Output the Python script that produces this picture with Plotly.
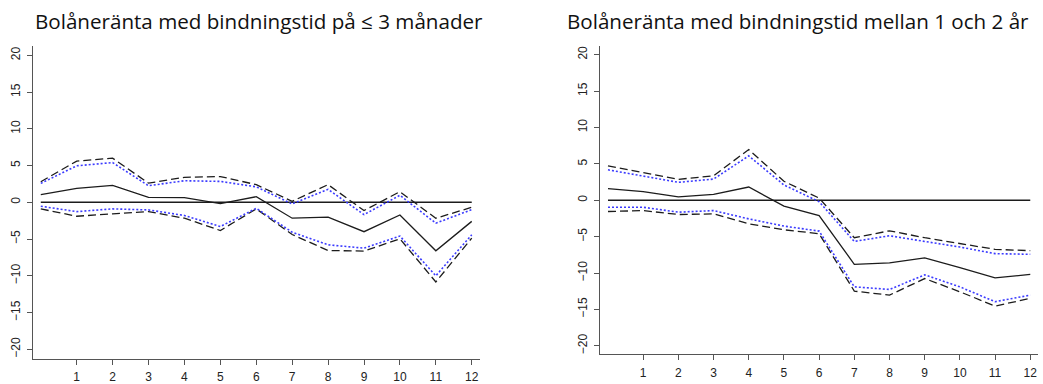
import plotly.graph_objects as go

# Horizon (quarters) shared by both panels
horizon = list(range(0, 13))
zero_line = [0] * 13

# Panel 1: mortgage rate, fixation period <= 3 months
short_mid = [1.03, 1.9, 2.3, 0.68, 0.63, -0.18, 0.76, -2.17, -2.03, -4.0, -1.72, -6.6, -2.6]
short_up_dash = [2.8, 5.6, 6.0, 2.6, 3.4, 3.5, 2.4, 0.13, 2.4, -1.13, 1.44, -2.17, -0.68]
short_up_dot = [2.57, 4.96, 5.4, 2.25, 2.93, 2.84, 2.1, -0.23, 1.76, -1.68, 0.95, -2.85, -1.0]
short_lo_dot = [-0.54, -1.27, -0.9, -1.04, -1.8, -3.3, -0.82, -4.07, -5.79, -6.24, -4.6, -10.0, -4.43]
short_lo_dash = [-0.9, -1.9, -1.58, -1.27, -2.17, -3.84, -0.9, -4.39, -6.56, -6.64, -4.97, -10.84, -4.88]

# Panel 2: mortgage rate, fixation period 1-2 years
long_mid = [1.59, 1.18, 0.45, 0.82, 1.82, -0.8, -2.1, -8.8, -8.6, -7.93, -9.26, -10.67, -10.2]
long_up_dash = [4.73, 3.83, 2.87, 3.36, 6.97, 2.6, 0.3, -5.15, -4.2, -5.15, -5.97, -6.75, -6.93]
long_up_dot = [4.18, 3.36, 2.46, 2.91, 6.1, 2.1, -0.2, -5.66, -4.88, -5.66, -6.43, -7.34, -7.43]
long_lo_dot = [-0.96, -0.96, -1.64, -1.42, -2.56, -3.55, -4.24, -11.9, -12.26, -10.25, -11.9, -13.94, -13.04]
long_lo_dash = [-1.55, -1.42, -1.96, -1.87, -3.24, -4.06, -4.6, -12.49, -13.04, -10.76, -12.58, -14.54, -13.49]

titles = ["Bolåneränta med bindningstid på ≤ 3 månader",
          "Bolåneränta med bindningstid mellan 1 och 2 år"]
x_ticks = list(range(1, 13))
y_ticks = [-20, -15, -10, -5, 0, 5, 10, 15, 20]

BLACK = "#1c1c1c"
BLUE = "#3b3bff"

fig = go.Figure()

panels = [
    ("x", "y", short_mid, short_up_dash, short_up_dot, short_lo_dot, short_lo_dash),
    ("x2", "y2", long_mid, long_up_dash, long_up_dot, long_lo_dot, long_lo_dash),
]

for xa, ya, mid, up_dash, up_dot, lo_dot, lo_dash in panels:
    fig.add_trace(go.Scatter(x=horizon, y=zero_line, xaxis=xa, yaxis=ya, mode="lines",
                             line=dict(color=BLACK, width=1.3)))
    for series in (up_dash, lo_dash):
        fig.add_trace(go.Scatter(x=horizon, y=series, xaxis=xa, yaxis=ya, mode="lines",
                                 line=dict(color=BLACK, width=1.3, dash="8px,4px")))
    for series in (up_dot, lo_dot):
        fig.add_trace(go.Scatter(x=horizon, y=series, xaxis=xa, yaxis=ya, mode="lines",
                                 line=dict(color=BLUE, width=1.6, dash="2px,2px")))
    fig.add_trace(go.Scatter(x=horizon, y=mid, xaxis=xa, yaxis=ya, mode="lines",
                             line=dict(color=BLACK, width=1.3)))

W, H = 1043, 384

def px_x(p):
    return p / W

def px_y(p):
    return 1 - p / H

axis_common = dict(showgrid=False, zeroline=False, showline=True, linecolor="#555555",
                   linewidth=1.2, ticks="outside", ticklen=5, tickcolor="#555555",
                   tickwidth=1.2, tickfont=dict(family="Liberation Sans, Arial", size=12,
                                                color="#222222"))

fig.update_layout(
    width=W, height=H, margin=dict(l=0, r=0, t=0, b=0),
    paper_bgcolor="white", plot_bgcolor="white", showlegend=False,
    xaxis=dict(domain=[px_x(33), px_x(480)], range=[-0.217, 12.23], anchor="y",
               tickvals=x_ticks, ticklabelstandoff=2, **axis_common),
    yaxis=dict(domain=[px_y(360.7), px_y(46.7)], range=[-21.3, 21.2], anchor="x",
               tickvals=y_ticks, tickangle=-90, ticklabelstandoff=2, **axis_common),
    xaxis2=dict(domain=[px_x(600), px_x(1038)], range=[-0.227, 12.22], anchor="y2",
                tickvals=x_ticks, ticklabelstandoff=2, **axis_common),
    yaxis2=dict(domain=[px_y(356), px_y(46)], range=[-21.15, 21.23], anchor="x2",
                tickvals=y_ticks, tickangle=-90, ticklabelstandoff=2, **axis_common),
)

title_pos = [(33, titles[0]), (565, titles[1])]
for x0, txt in title_pos:
    fig.add_annotation(text=txt, xref="paper", yref="paper", x=px_x(x0), y=px_y(5),
                       xanchor="left", yanchor="top", showarrow=False,
                       font=dict(family="Open Sans", size=20.6, color="#111111"))

fig.write_html("out.html")
